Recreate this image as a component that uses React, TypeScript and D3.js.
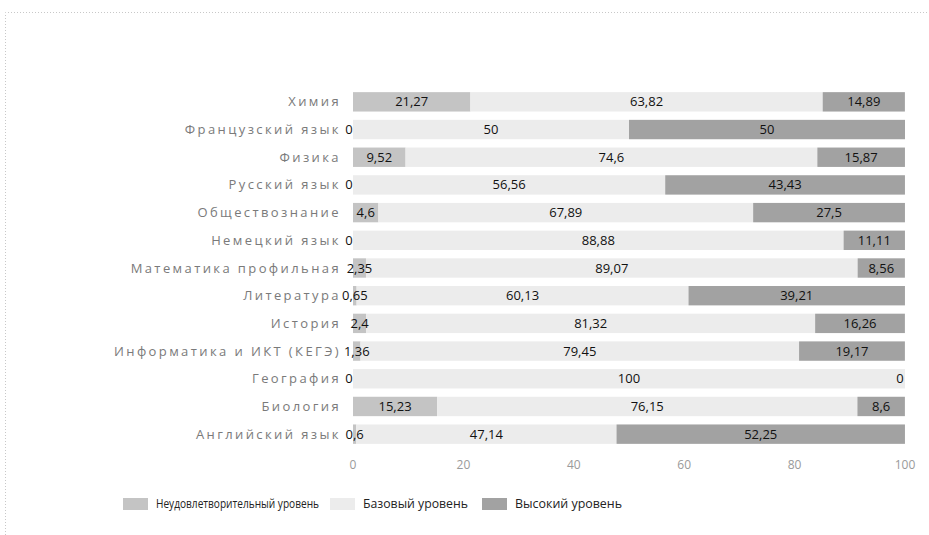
import * as d3 from 'd3';
import { useEffect, useRef } from 'react';

const categories = [
  'Химия',
  'Французский язык',
  'Физика',
  'Русский язык',
  'Обществознание',
  'Немецкий язык',
  'Математика профильная',
  'Литература',
  'История',
  'Информатика и ИКТ (КЕГЭ)',
  'География',
  'Биология',
  'Английский язык',
];

const lowLevel = [21.27, 0, 9.52, 0, 4.6, 0, 2.35, 0.65, 2.4, 1.36, 0, 15.23, 0.6];
const baseLevel = [63.82, 50, 74.6, 56.56, 67.89, 88.88, 89.07, 60.13, 81.32, 79.45, 100, 76.15, 47.14];
const highLevel = [14.89, 50, 15.87, 43.43, 27.5, 11.11, 8.56, 39.21, 16.26, 19.17, 0, 8.6, 52.25];

const seriesNames = ['Неудовлетворительный уровень', 'Базовый уровень', 'Высокий уровень'];
const xTicks = [0, 20, 40, 60, 80, 100];

const colors = ['#c4c4c4', '#ececec', '#a2a2a2'];

function App() {
  const svgRef = useRef<SVGSVGElement>(null);

  useEffect(() => {
    const width = 929;
    const height = 535;
    const margin = { top: 88, right: 24, bottom: 85, left: 353 };

    const svg = d3.select(svgRef.current);
    svg.selectAll('*').remove();
    svg.attr('width', width).attr('height', height);

    // frame of the scanned chart
    svg.append('path')
      .attr('d', `M5.5,${height}V12.5H${width}`)
      .attr('fill', 'none')
      .attr('stroke', '#c8c8c8')
      .attr('stroke-dasharray', '1,2');

    const rows = categories.map((c, i) => ({ cat: c, vals: [lowLevel[i], baseLevel[i], highLevel[i]] }));

    const x = d3.scaleLinear().domain([0, 100]).range([margin.left, 905]);
    const y = d3.scaleBand()
      .domain(categories)
      .range([margin.top, 448])
      .paddingInner(0.3)
      .paddingOuter(0.15);

    const font = '"Open Sans", "Noto Sans", sans-serif';

    rows.forEach(r => {
      let acc = 0;
      const y0 = y(r.cat)!;
      r.vals.forEach((v, k) => {
        const x0 = x(acc);
        const x1 = x(acc + v);
        svg.append('rect')
          .attr('x', x0)
          .attr('y', y0)
          .attr('width', Math.max(0, x1 - x0))
          .attr('height', y.bandwidth())
          .attr('fill', colors[k]);
        acc += v;
      });
    });

    // category labels
    svg.append('g')
      .selectAll('text')
      .data(categories)
      .join('text')
      .attr('x', margin.left - 12)
      .attr('y', d => y(d)! + y.bandwidth() / 2)
      .attr('dy', '0.35em')
      .attr('text-anchor', 'end')
      .attr('font-family', font)
      .attr('font-size', 13)
      .attr('letter-spacing', 2.4)
      .attr('fill', '#7a7a7a')
      .text(d => d);

    // value labels
    rows.forEach(r => {
      let acc = 0;
      const yc = y(r.cat)! + y.bandwidth() / 2;
      r.vals.forEach(v => {
        let cx = x(acc + v / 2);
        if (v === 0 && acc === 0) cx = x(0) - 4;
        if (v === 0 && acc >= 100) cx = x(100) - 5;
        svg.append('text')
          .attr('x', cx)
          .attr('y', yc)
          .attr('dy', '0.35em')
          .attr('text-anchor', 'middle')
          .attr('font-family', font)
          .attr('font-size', 13)
          .attr('fill', '#111')
          .text(String(v).replace('.', ','));
        acc += v;
      });
    });

    // x axis labels
    svg.append('g')
      .selectAll('text')
      .data(xTicks)
      .join('text')
      .attr('x', d => x(d))
      .attr('y', 469)
      .attr('text-anchor', 'middle')
      .attr('font-family', font)
      .attr('font-size', 12)
      .attr('fill', '#9a9a9a')
      .text(d => d);

    // legend
    const legendX = [123, 330, 482];
    const legendLen = [163, 105, 107];
    const legend = svg.append('g');
    seriesNames.forEach((name, k) => {
      legend.append('rect')
        .attr('x', legendX[k])
        .attr('y', 498)
        .attr('width', 25)
        .attr('height', 12)
        .attr('fill', colors[k]);
      legend.append('text')
        .attr('x', legendX[k] + 33)
        .attr('y', 504)
        .attr('dy', '0.35em')
        .attr('font-family', font)
        .attr('font-size', 12)
        .attr('textLength', legendLen[k])
        .attr('lengthAdjust', 'spacingAndGlyphs')
        .attr('fill', '#222')
        .text(name);
    });
  }, []);

  return (
    <div style={{ position: 'absolute', left: 0, top: 0, background: '#fff' }}>
      <svg ref={svgRef} style={{ display: 'block' }} />
    </div>
  );
}

export default App;
